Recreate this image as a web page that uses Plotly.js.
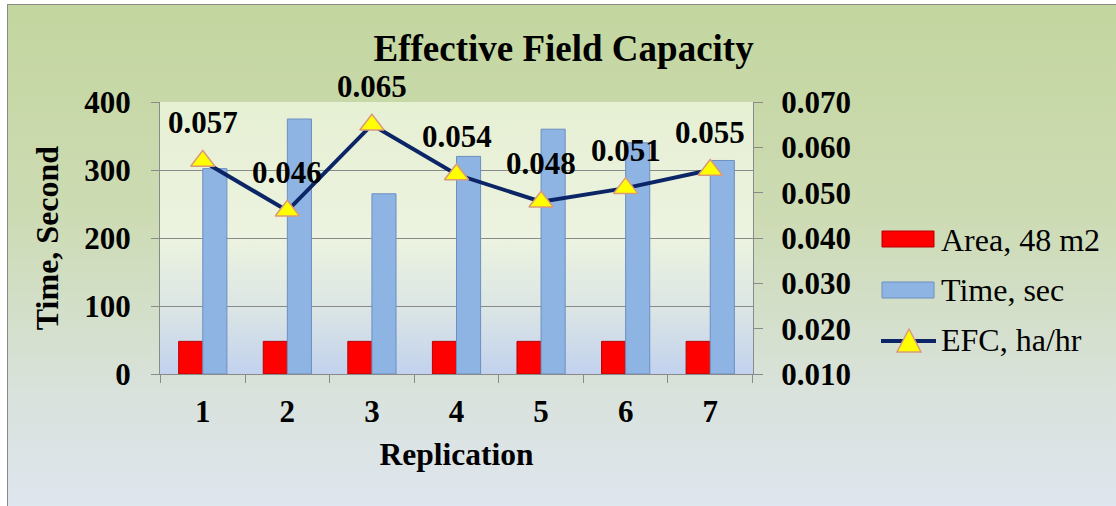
<!DOCTYPE html>
<html>
<head>
<meta charset="utf-8">
<script src="https://cdn.plot.ly/plotly-3.0.1.min.js"></script>
<style>
  html, body { margin: 0; padding: 0; background: #ffffff; }
  #wrap { position: relative; width: 1116px; height: 506px; overflow: hidden; }
  #frame { position: absolute; left: 7px; top: 4px; width: 1130px; height: 520px;
           border: 1px solid #8a8a8a;
           background: linear-gradient(to bottom, #c3d69f 0%, #cddbb3 40%, #d9e2dc 75%, #dfe6f1 100%); }
  #chart { position: absolute; left: 0; top: 0; width: 1116px; height: 506px; }
</style>
</head>
<body>
<div id="wrap">
  <div id="frame"></div>
  <div id="chart"></div>
</div>
<script>
// ---- data ----
const replications = ['1', '2', '3', '4', '5', '6', '7'];
const areaM2 = [48, 48, 48, 48, 48, 48, 48];
const timeSec = [302, 375, 265, 320, 360, 340, 314];
const efcHaHr = [0.057, 0.046, 0.065, 0.054, 0.048, 0.051, 0.055];
const leftTicks = [0, 100, 200, 300, 400];
const rightTicks = [0.010, 0.020, 0.030, 0.040, 0.050, 0.060, 0.070];
const seriesNames = ['Area, 48 m2', 'Time, sec', 'EFC, ha/hr'];

const serif = '"Liberation Serif", "Times New Roman", serif';

// plot-area geometry (pixels) for the hand-drawn legend
const M = { l: 160, r: 363, t: 102, b: 132 };
const W = 1116, H = 506;
const PW = W - M.l - M.r, PH = H - M.t - M.b;
const px = v => (v - M.l) / PW;
const py = v => (H - M.b - v) / PH;

const traces = [
  {
    type: 'bar', name: seriesNames[0], x: replications, y: areaM2,
    marker: { color: '#ff0000', line: { color: '#b80000', width: 1 } },
    showlegend: false
  },
  {
    type: 'bar', name: seriesNames[1], x: replications, y: timeSec,
    marker: { color: '#8eb4e3', line: { color: '#6d8fc0', width: 1 } },
    showlegend: false
  },
  {
    type: 'scatter', mode: 'lines+markers', name: seriesNames[2],
    x: replications, y: efcHaHr, yaxis: 'y2',
    line: { color: '#0b2566', width: 4 },
    marker: { symbol: 'triangle-up', size: 21, color: '#ffff00',
              line: { color: '#d99a7a', width: 1.5 } },
    showlegend: false
  }
];

const annotations = replications.map((r, i) => ({
  x: i, y: efcHaHr[i], xref: 'x', yref: 'y2',
  text: '<b>' + efcHaHr[i].toFixed(3) + '</b>', showarrow: false, yshift: 38,
  font: { family: serif, size: 31, color: '#000000' }
}));

// legend (drawn by hand so the symbols are the reference size)
const legendRows = [240, 290, 340];
const shapes = [
  { type: 'rect', xref: 'paper', yref: 'paper', x0: px(882), x1: px(934), y0: py(247), y1: py(231),
    fillcolor: '#ff0000', line: { color: '#b80000', width: 1 } },
  { type: 'rect', xref: 'paper', yref: 'paper', x0: px(882), x1: px(934), y0: py(298), y1: py(282),
    fillcolor: '#8eb4e3', line: { color: '#6d8fc0', width: 1 } },
  { type: 'line', xref: 'paper', yref: 'paper', x0: px(881), x1: px(936), y0: py(341), y1: py(341),
    line: { color: '#0b2566', width: 4 } },
  { type: 'path', xref: 'paper', yref: 'paper',
    path: 'M ' + px(897) + ' ' + py(352) + ' L ' + px(921) + ' ' + py(352) + ' L ' + px(909) + ' ' + py(329) + ' Z',
    fillcolor: '#ffff00', line: { color: '#d99a7a', width: 1.5 } }
];
seriesNames.forEach((n, i) => annotations.push({
  xref: 'paper', yref: 'paper', x: px(939), y: py(legendRows[i]),
  xanchor: 'left', yanchor: 'middle', showarrow: false, text: n,
  font: { family: serif, size: 32, color: '#000000' }
}));

const gradSvg = '<svg xmlns="http://www.w3.org/2000/svg" width="100" height="100" preserveAspectRatio="none">' +
  '<defs><linearGradient id="g" x1="0" y1="0" x2="0" y2="1">' +
  '<stop offset="0" stop-color="#e6f0d3"/>' +
  '<stop offset="0.5" stop-color="#ecf3e0"/>' +
  '<stop offset="0.75" stop-color="#dce6e4"/>' +
  '<stop offset="1" stop-color="#c2d2ee"/>' +
  '</linearGradient></defs><rect width="100" height="100" fill="url(#g)"/></svg>';

const layout = {
  width: W, height: H,
  margin: M,
  paper_bgcolor: 'rgba(0,0,0,0)',
  plot_bgcolor: 'rgba(0,0,0,0)',
  font: { family: serif, color: '#000000' },
  title: {
    text: '<b>Effective Field Capacity</b>',
    font: { family: serif, size: 37, color: '#000000' },
    x: 0.505, xanchor: 'center', y: 0.905, yanchor: 'middle'
  },
  barmode: 'group', bargap: 0.43, bargroupgap: 0,
  xaxis: {
    type: 'category',
    title: { text: '<b>Replication</b>', font: { family: serif, size: 31.5 }, standoff: 14 },
    tickfont: { family: serif, size: 31, weight: 'bold' },
    tickson: 'boundaries', ticks: 'outside', ticklen: 8, tickcolor: '#8a8a8a',
    ticklabelstandoff: 10,
    showline: true, linecolor: '#8a8a8a', linewidth: 1,
    showgrid: false, zeroline: false
  },
  yaxis: {
    title: { text: '<b>Time, Second</b>', font: { family: serif, size: 32 }, standoff: 16 },
    range: [0, 400], tickvals: leftTicks,
    tickfont: { family: serif, size: 31, weight: 'bold' },
    ticks: 'outside', ticklen: 8, tickcolor: '#8a8a8a',
    ticklabelstandoff: 14,
    showline: true, linecolor: '#8a8a8a', linewidth: 1,
    showgrid: true, gridcolor: '#8a8a8a', gridwidth: 1, zeroline: false
  },
  yaxis2: {
    overlaying: 'y', side: 'right',
    range: [0.010, 0.070], tickvals: rightTicks, tickformat: '.3f',
    tickfont: { family: serif, size: 31, weight: 'bold' },
    ticks: 'outside', ticklen: 9, tickcolor: '#8a8a8a',
    ticklabelstandoff: 12,
    showline: true, linecolor: '#8a8a8a', linewidth: 1,
    showgrid: false, zeroline: false
  },
  showlegend: false,
  annotations: annotations,
  shapes: shapes,
  images: [{
    source: 'data:image/svg+xml;charset=utf-8,' + encodeURIComponent(gradSvg),
    xref: 'paper', yref: 'paper', x: 0, y: 1, sizex: 1, sizey: 1,
    sizing: 'stretch', layer: 'below', xanchor: 'left', yanchor: 'top'
  }]
};

Plotly.newPlot('chart', traces, layout, { displayModeBar: false, staticPlot: true });
</script>
</body>
</html>
